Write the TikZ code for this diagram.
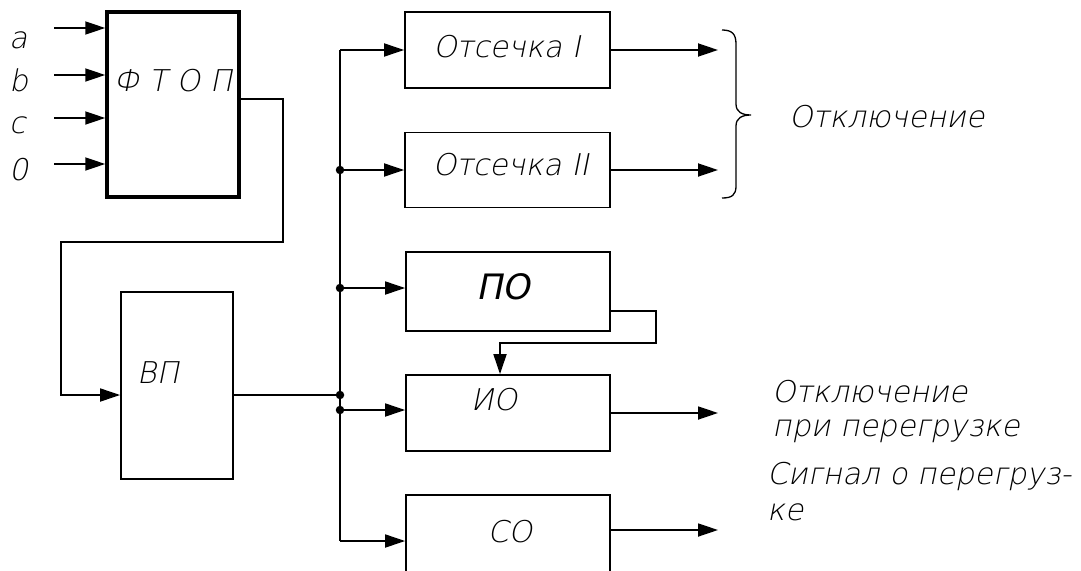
\documentclass[tikz,border=0pt]{standalone}
\usepackage{fontspec}
\newfontfamily\thinfont[FakeSlant=0.2]{DejaVu Sans ExtraLight}
\newfontfamily\mediumfont[FakeSlant=0.2]{DejaVu Sans}
\usetikzlibrary{arrows.meta,positioning}

\begin{document}
\begin{tikzpicture}[
    x=1pt, y=-1pt,
    box/.style={draw, line width=1.8pt, inner sep=0pt},
    txt/.style={font=\fontsize{30}{30}\selectfont\thinfont, inner sep=0pt, anchor=base},
    side/.style={txt, anchor=base west},
    wire/.style={line width=1.8pt},
    arr/.style={line width=1.8pt, -{Triangle[length=20pt,width=13pt]}},
    dot/.style={circle, fill, inner sep=0pt, minimum size=8.5pt}
]
\useasboundingbox (0,0) rectangle (1081,570);

% ---- blocks ----
\node[box, line width=3.5pt, minimum width=132pt, minimum height=185pt] (ftop) at (173,104.5) {};
\node[box, minimum width=112pt, minimum height=187pt] (vp) at (177,385.5) {};
\node[box, minimum width=205pt, minimum height=76pt] (ots1) at (507.5,50) {};
\node[box, minimum width=205pt, minimum height=75pt] (ots2) at (507.5,170) {};
\node[box, minimum width=204pt, minimum height=79pt] (po) at (508,291.5) {};
\node[box, minimum width=204pt, minimum height=76pt] (io) at (508,413) {};
\node[box, minimum width=204pt, minimum height=90pt] (co) at (508,540) {};

% ---- block texts ----
\node[txt] (ftop-t) at (173,91) {Ф Т О П};
\node[txt] (vp-t) at (158,383) {ВП};
\node[txt] (ots1-t) at (507,57) {Отсечка I};
\node[txt] (ots2-t) at (511,175) {Отсечка II};
\node[txt, font=\fontsize{35}{35}\selectfont\mediumfont] (po-t) at (503,299) {ПО};
\node[txt] (io-t) at (494,410) {ИО};
\node[txt] (co-t) at (510,542) {СО};

% ---- inputs ----
\node[side] (lbl-a) at (9,48) {a};
\node[side] (lbl-b) at (9,91) {b};
\node[side] (lbl-c) at (9,133) {c};
\node[side] (lbl-0) at (9,180) {0};

\coordinate (in-a) at (54,28);
\coordinate (in-b) at (54,75);
\coordinate (in-c) at (54,118);
\coordinate (in-0) at (54,164);

\draw[arr] (in-a) -- (in-a -| ftop.west);
\draw[arr] (in-b) -- (in-b -| ftop.west);
\draw[arr] (in-c) -- (in-c -| ftop.west);
\draw[arr] (in-0) -- (in-0 -| ftop.west);

% ---- FTOP to VP ----
\coordinate (ftop-out) at (ftop.east |- 0,99);
\draw[arr] (ftop-out) -| (283,242) -| (61,395) -- (vp.west |- 0,395);

% ---- bus ----
\coordinate (bus-top) at (340,50);
\coordinate (bus-bot) at (340,541);
\coordinate (j-vp) at (340,395);
\coordinate (t-ots2) at (340,170);
\coordinate (t-po) at (340,288);
\coordinate (t-io) at (340,410);

\draw[wire] (bus-top) -- (bus-bot);
\draw[wire] (vp.east |- j-vp) -- (j-vp);

\draw[arr] (bus-top) -- (bus-top -| ots1.west);
\draw[arr] (t-ots2) -- (t-ots2 -| ots2.west);
\draw[arr] (t-po) -- (t-po -| po.west);
\draw[arr] (t-io) -- (t-io -| io.west);
\draw[arr] (bus-bot) -- (bus-bot -| co.west);

\node[dot] at (t-ots2) {};
\node[dot] at (t-po) {};
\node[dot] at (j-vp) {};
\node[dot] at (t-io) {};

% ---- PO to IO ----
\coordinate (po-out) at (po.east |- 0,311);
\draw[arr] (po-out) -| (656,343) -| (500,0 |- io.north);

% ---- outputs ----
\coordinate (out-ots1) at (718,50);
\coordinate (out-ots2) at (718,170);
\coordinate (out-io) at (718,413);
\coordinate (out-co) at (718,530);

\draw[arr] (ots1) -- (out-ots1);
\draw[arr] (ots2) -- (out-ots2);
\draw[arr] (io) -- (out-io);
\draw[arr] (co.east |- out-co) -- (out-co);

% ---- brace ----
\draw[line width=1.3pt] (722,30) .. controls (732,30) and (736,34) .. (736,44)
    -- (736,104) .. controls (736,112) and (742,115) .. (751,115)
    .. controls (742,115) and (736,118) .. (736,126)
    -- (736,186) .. controls (736,195) and (732,198) .. (722,198);

% ---- output texts ----
\node[side] (trip) at (789,127) {Отключение};
\node[side] (trip-ol) at (772,402) {Отключение};
\node[side] (trip-ol2) at (772,436) {при\ перегрузке};
\node[side] (sig-ol) at (767,484) {Сигнал\ о\ перегруз-};
\node[side] (sig-ol2) at (767,520) {ке};

\end{tikzpicture}
\end{document}
